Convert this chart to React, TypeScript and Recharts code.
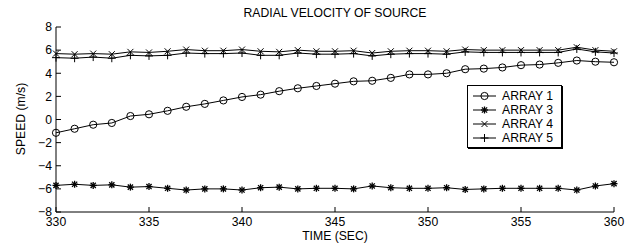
import { Line, LineChart, XAxis, YAxis } from "recharts";

const times = [
  330, 331, 332, 333, 334, 335, 336, 337, 338, 339, 340, 341, 342, 343, 344, 345,
  346, 347, 348, 349, 350, 351, 352, 353, 354, 355, 356, 357, 358, 359, 360,
];

const array1 = [
  -1.15, -0.8, -0.45, -0.3, 0.3, 0.45, 0.75, 1.1, 1.35, 1.65, 1.95, 2.15, 2.45, 2.7, 2.9, 3.1,
  3.3, 3.35, 3.6, 3.9, 3.9, 4.0, 4.35, 4.4, 4.5, 4.7, 4.75, 4.9, 5.1, 5.0, 4.95,
];

const array3 = [
  -5.7, -5.6, -5.7, -5.65, -5.85, -5.8, -5.95, -6.1, -6.0, -6.0, -6.1, -5.9, -5.85, -6.0, -5.95, -5.95,
  -6.0, -5.75, -5.9, -5.95, -5.95, -5.9, -6.05, -6.0, -5.95, -5.95, -5.95, -5.95, -6.1, -5.75, -5.55,
];

const array4 = [
  5.7, 5.65, 5.7, 5.65, 5.85, 5.8, 5.9, 6.05, 5.95, 5.95, 6.05, 5.9, 5.85, 6.0, 5.9, 5.9,
  5.95, 5.75, 5.9, 5.95, 5.95, 5.9, 6.05, 6.0, 6.0, 6.0, 6.0, 6.0, 6.25, 6.0, 5.9,
];

const array5 = [
  5.35, 5.3, 5.4, 5.3, 5.55, 5.5, 5.55, 5.75, 5.7, 5.7, 5.75, 5.55, 5.55, 5.75, 5.65, 5.65,
  5.7, 5.5, 5.65, 5.7, 5.7, 5.65, 5.85, 5.8, 5.8, 5.8, 5.8, 5.8, 6.1, 5.85, 5.75,
];

const xTicks = [330, 335, 340, 345, 350, 355, 360];
const yTicks = [-8, -6, -4, -2, 0, 2, 4, 6, 8];

const data = times.map((t, i) => ({
  t,
  a1: array1[i],
  a3: array3[i],
  a4: array4[i],
  a5: array5[i],
}));

const FONT = '"Liberation Sans", Arial, sans-serif';
const FS = 12.2;
const INK = "#000";

type Pt = { cx?: number; cy?: number };

function CircleMark({ cx = 0, cy = 0 }: Pt) {
  return <circle cx={cx} cy={cy} r={3.6} fill="none" stroke={INK} strokeWidth={1} />;
}

function StarMark({ cx = 0, cy = 0 }: Pt) {
  const s = 3.5;
  const d = 2.6;
  return (
    <g stroke={INK} strokeWidth={1.3}>
      <line x1={cx} y1={cy - s} x2={cx} y2={cy + s} />
      <line x1={cx - s} y1={cy} x2={cx + s} y2={cy} />
      <line x1={cx - d} y1={cy - d} x2={cx + d} y2={cy + d} />
      <line x1={cx - d} y1={cy + d} x2={cx + d} y2={cy - d} />
    </g>
  );
}

function CrossMark({ cx = 0, cy = 0 }: Pt) {
  const d = 3;
  return (
    <g stroke={INK} strokeWidth={1}>
      <line x1={cx - d} y1={cy - d} x2={cx + d} y2={cy + d} />
      <line x1={cx - d} y1={cy + d} x2={cx + d} y2={cy - d} />
    </g>
  );
}

function PlusMark({ cx = 0, cy = 0 }: Pt) {
  const s = 4;
  return (
    <g stroke={INK} strokeWidth={1}>
      <line x1={cx} y1={cy - s} x2={cx} y2={cy + s} />
      <line x1={cx - s} y1={cy} x2={cx + s} y2={cy} />
    </g>
  );
}

const series = [
  { key: "a1", name: "ARRAY 1", Mark: CircleMark },
  { key: "a3", name: "ARRAY 3", Mark: StarMark },
  { key: "a4", name: "ARRAY 4", Mark: CrossMark },
  { key: "a5", name: "ARRAY 5", Mark: PlusMark },
];

const minus = (v: number) => String(v).replace("-", "\u2212");

function LegendBox() {
  return (
    <div
      style={{
        position: "absolute",
        left: 467,
        top: 85,
        border: "1px solid #000",
        boxShadow: "1px 1px 0 #000",
        background: "#fff",
        width: 95,
        height: 63,
        boxSizing: "border-box",
        paddingTop: 3,
      }}
    >
      {series.map(({ name, Mark }) => (
        <div key={name} style={{ display: "flex", alignItems: "center", height: 14 }}>
          <svg width={34} height={12} style={{ display: "block" }}>
            <line x1={5} y1={6} x2={28} y2={6} stroke={INK} strokeWidth={1} />
            <Mark cx={16.5} cy={6} />
          </svg>
          <span style={{ fontFamily: FONT, fontSize: FS, lineHeight: "12px", color: INK }}>{name}</span>
        </div>
      ))}
    </div>
  );
}

const labelStyle = {
  position: "absolute" as const,
  fontFamily: FONT,
  fontSize: FS,
  lineHeight: "12px",
  color: INK,
  whiteSpace: "nowrap" as const,
};

export default function App() {
  return (
    <div style={{ position: "absolute", left: 0, top: 0, width: 642, height: 247, background: "#fff" }}>
      <div style={{ ...labelStyle, left: 56, width: 558, top: 7, textAlign: "center" }}>
        RADIAL VELOCITY OF SOURCE
      </div>
      <div style={{ ...labelStyle, left: 56, width: 558, top: 229.5, textAlign: "center" }}>
        TIME (SEC)
      </div>
      <div
        style={{
          ...labelStyle,
          left: 21,
          top: 119,
          transform: "translate(-50%, -50%) rotate(-90deg)",
        }}
      >
        SPEED (m/s)
      </div>
      <LineChart
        width={642}
        height={247}
        data={data}
        margin={{ top: 27, right: 28, bottom: 0, left: 0 }}
        style={{ position: "absolute", left: 0, top: 0 }}
      >
        <XAxis
          dataKey="t"
          type="number"
          domain={[330, 360]}
          ticks={xTicks}
          height={35}
          tickSize={-5}
          tickMargin={10}
          axisLine={{ stroke: INK }}
          tickLine={{ stroke: INK }}
          tick={{ fill: INK, fontSize: FS, fontFamily: FONT }}
        />
        <XAxis
          xAxisId="top"
          orientation="top"
          dataKey="t"
          type="number"
          domain={[330, 360]}
          ticks={xTicks}
          height={0}
          tickSize={-5}
          axisLine={{ stroke: INK }}
          tickLine={{ stroke: INK }}
          tick={false}
        />
        <YAxis
          type="number"
          domain={[-8, 8]}
          ticks={yTicks}
          width={56}
          tickSize={-5}
          tickMargin={9}
          tickFormatter={minus}
          axisLine={{ stroke: INK }}
          tickLine={{ stroke: INK }}
          tick={{ fill: INK, fontSize: FS, fontFamily: FONT }}
        />
        <YAxis
          yAxisId="right"
          orientation="right"
          type="number"
          domain={[-8, 8]}
          ticks={yTicks}
          width={0}
          tickSize={-5}
          axisLine={{ stroke: INK }}
          tickLine={{ stroke: INK }}
          tick={false}
        />
        {series.map(({ key, name, Mark }) => (
          <Line
            key={key}
            dataKey={key}
            name={name}
            type="linear"
            stroke={INK}
            strokeWidth={1}
            isAnimationActive={false}
            dot={(p: any) => <Mark key={`${key}-${p.index}`} cx={p.cx} cy={p.cy} />}
            activeDot={false}
          />
        ))}
      </LineChart>
      <LegendBox />
    </div>
  );
}
